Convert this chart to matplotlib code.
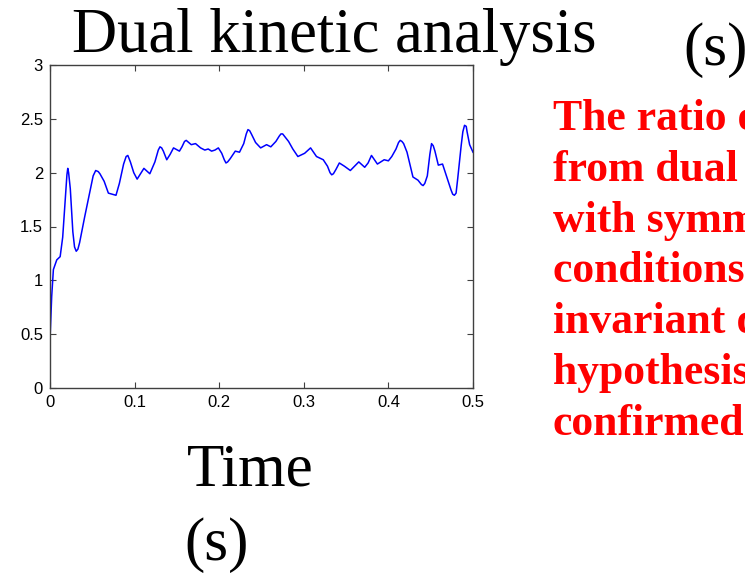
import matplotlib
matplotlib.use("Agg")
import matplotlib.pyplot as plt

# Data
time_s = [0.000, 0.002, 0.004, 0.008, 0.012, 0.015, 0.018, 0.020, 0.021, 0.022, 0.024, 0.027,
          0.029, 0.031, 0.033, 0.035, 0.041, 0.047, 0.051, 0.054, 0.057, 0.059, 0.064, 0.069, 0.078, 0.082,
          0.087, 0.090, 0.092, 0.095, 0.099, 0.103, 0.107, 0.111, 0.118, 0.124, 0.128, 0.130,
          0.132, 0.134, 0.138, 0.142, 0.146, 0.153, 0.156, 0.159, 0.161, 0.167, 0.172, 0.178,
          0.183, 0.187, 0.191, 0.195, 0.199, 0.203, 0.206, 0.208, 0.210, 0.213, 0.219, 0.224,
          0.229, 0.232, 0.234, 0.236, 0.238, 0.243, 0.249, 0.256, 0.261, 0.267, 0.271, 0.273, 0.275, 0.277,
          0.282, 0.287, 0.293, 0.301, 0.308, 0.315, 0.323, 0.328, 0.331, 0.333, 0.335, 0.338,
          0.342, 0.348, 0.355, 0.360, 0.365, 0.372, 0.376, 0.380, 0.387, 0.395,
          0.400, 0.404, 0.409, 0.412, 0.414, 0.416, 0.418, 0.422, 0.429, 0.435, 0.439, 0.441, 0.443, 0.446,
          0.449, 0.451, 0.453, 0.455, 0.459, 0.464, 0.469, 0.474, 0.476, 0.478, 0.480, 0.482, 0.486, 0.488, 0.490,
          0.492, 0.493, 0.496, 0.500]
ratio = [0.45, 0.85, 1.10, 1.19, 1.22, 1.40, 1.75, 1.98, 2.04, 2.00, 1.85, 1.45,
         1.31, 1.27, 1.29, 1.35, 1.59, 1.82, 1.97, 2.02, 2.01, 1.99, 1.92, 1.81, 1.79, 1.90,
         2.08, 2.15, 2.16, 2.10, 2.00, 1.94, 1.99, 2.04, 1.99, 2.10, 2.21, 2.24,
         2.23, 2.20, 2.12, 2.17, 2.23, 2.20, 2.24, 2.29, 2.30, 2.26, 2.27, 2.23,
         2.21, 2.22, 2.20, 2.21, 2.23, 2.18, 2.12, 2.09, 2.10, 2.13, 2.20, 2.19,
         2.27, 2.36, 2.40, 2.39, 2.36, 2.28, 2.23, 2.26, 2.24, 2.29, 2.34, 2.36, 2.36, 2.34,
         2.29, 2.22, 2.15, 2.18, 2.23, 2.15, 2.12, 2.06, 2.00, 1.98, 1.99, 2.03,
         2.09, 2.06, 2.02, 2.06, 2.10, 2.05, 2.09, 2.16, 2.08, 2.12,
         2.11, 2.15, 2.22, 2.28, 2.30, 2.29, 2.27, 2.19, 1.96, 1.93, 1.89, 1.88, 1.90, 1.97,
         2.17, 2.27, 2.25, 2.20, 2.07, 2.08, 1.96, 1.84, 1.80, 1.79, 1.81, 1.95, 2.25, 2.38, 2.44,
         2.43, 2.38, 2.26, 2.19]

x_ticks = [0, 0.1, 0.2, 0.3, 0.4, 0.5]
x_tick_labels = ["0", "0.1", "0.2", "0.3", "0.4", "0.5"]
y_ticks = [0, 0.5, 1, 1.5, 2, 2.5, 3]
y_tick_labels = ["0", "0.5", "1", "1.5", "2", "2.5", "3"]

title_text = "Dual kinetic analysis"
title_unit = "(s)"
xlabel_text = "Time"
xlabel_unit = "(s)"
note_lines = ["The ratio of", "from dual kinetic", "with symmetric",
              "conditions is", "invariant quantity", "hypothesis is",
              "confirmed"]

W, H = 745, 574
fig = plt.figure(figsize=(W / 100, H / 100), dpi=100)
fig.patch.set_facecolor("white")

ax = fig.add_axes([50 / W, 1 - 388 / H, (473 - 50) / W, (388 - 65) / H])
ax.plot(time_s, ratio, color="#0000ff", linewidth=1.1,
        solid_joinstyle="round")
ax.set_xlim(0, 0.5)
ax.set_ylim(0, 3)
ax.set_xticks(x_ticks)
ax.set_xticklabels(x_tick_labels)
ax.set_yticks(y_ticks)
ax.set_yticklabels(y_tick_labels)
for s in ax.spines.values():
    s.set_color("#404040")
    s.set_linewidth(1.0)
ax.tick_params(direction="in", length=4, width=0.8, color="#404040",
               top=True, right=True, labelsize=12, pad=5)
for lab in ax.get_xticklabels() + ax.get_yticklabels():
    lab.set_fontfamily("Liberation Sans")

serif = "Liberation Serif"
fig.text(72 / W, 1 - 52 / H, title_text, fontsize=45, family=serif,
         ha="left", va="baseline", color="black")
fig.text(683 / W, 1 - 65 / H, title_unit, fontsize=44, family=serif,
         ha="left", va="baseline", color="black")
fig.text(250 / W, 1 - 485 / H, xlabel_text, fontsize=44, family=serif,
         ha="center", va="baseline", color="black")
fig.text(217 / W, 1 - 560 / H, xlabel_unit, fontsize=44, family=serif,
         ha="center", va="baseline", color="black")

y0 = 130
for i, line in enumerate(note_lines):
    fig.text(553 / W, 1 - (y0 + i * 50.8) / H, line, fontsize=31.5,
             family=serif, fontweight="bold", color="#ff0000",
             ha="left", va="baseline")

fig.savefig("out.png", dpi=100)
